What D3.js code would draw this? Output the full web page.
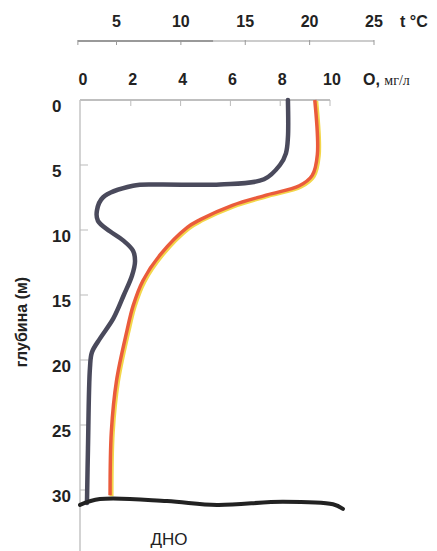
<!DOCTYPE html>
<html>
<head>
<meta charset="utf-8">
<script src="https://cdn.jsdelivr.net/npm/d3@7"></script>
<style>
  body { margin: 0; background: #fff; }
  svg { display: block; }
</style>
</head>
<body>
<div id="chart"></div>
<script>
// depth (m) vs dissolved oxygen (mg/l)
var oxyDepth = [0, 2.9, 4.1, 5.0, 6.1, 6.5, 6.5, 6.6, 7.5, 8.5, 9.3, 10.1, 10.8, 11.6, 12.4, 13.5, 15, 16.8, 18.3, 19.4, 20.6, 26.8, 31];
var oxyValues = [8.31, 8.31, 8.23, 7.99, 7.35, 5.58, 3.05, 2.09, 0.88, 0.64, 0.68, 1.16, 1.69, 2.09, 2.17, 2.05, 1.72, 1.3, 0.78, 0.44, 0.36, 0.28, 0.24];

// depth (m) vs temperature (°C)
var tempDepth = [0, 4.2, 5.8, 6.6, 7.3, 8.1, 9.2, 9.8, 11.9, 13.9, 15.8, 17.8, 21.6, 25.5, 30.4];
var tempValues = [20.4, 20.6, 20.2, 19.2, 16.7, 14.0, 11.5, 10.5, 8.4, 7.05, 6.3, 5.8, 5.0, 4.6, 4.5];

// bottom line (дно), x in O2 units
var bottomX = [-0.04, 0.76, 3.45, 5.46, 8.11, 10.12, 10.52];
var bottomDepth = [31.15, 30.7, 30.85, 31.15, 30.9, 31.1, 31.45];

var tempTicks = [5, 10, 15, 20, 25];
var oxyTicks = [0, 2, 4, 6, 8, 10];
var depthTicks = [0, 5, 10, 15, 20, 25, 30];

var width = 437, height = 551;

var svg = d3.select('#chart').append('svg')
    .attr('width', width)
    .attr('height', height);

var x = d3.scaleLinear().domain([0, 10]).range([81, 330]);
var xt = d3.scaleLinear().domain([5, 25]).range([116.5, 374]);
var y = d3.scaleLinear().domain([0, 30]).range([100, 490]);

var numFont = "'Liberation Sans', Arial, sans-serif";

// temperature axis
svg.append('line')
    .attr('x1', xt(2)).attr('x2', xt(25))
    .attr('y1', 41).attr('y2', 41)
    .attr('stroke', '#999').attr('stroke-width', 1.2);
svg.append('line')
    .attr('x1', xt(2)).attr('x2', xt(12.5))
    .attr('y1', 41).attr('y2', 41)
    .attr('stroke', '#666').attr('stroke-width', 1.2);
svg.selectAll('.tt')
    .data([2].concat(tempTicks))
    .join('line')
    .attr('class', 'tt')
    .attr('x1', d => xt(d)).attr('x2', d => xt(d))
    .attr('y1', 40).attr('y2', 45)
    .attr('stroke', '#999');
svg.selectAll('.tl')
    .data(tempTicks)
    .join('text')
    .attr('class', 'tl')
    .attr('x', d => xt(d))
    .attr('y', 27)
    .attr('text-anchor', 'middle')
    .style('font-family', numFont)
    .style('font-size', '16px')
    .style('font-weight', 'bold')
    .attr('fill', '#222')
    .text(d => d);
svg.append('text')
    .attr('x', 400).attr('y', 27)
    .style('font-family', numFont)
    .style('font-size', '16px')
    .style('font-weight', 'bold')
    .attr('fill', '#222')
    .text('t °C');

// oxygen axis labels
svg.selectAll('.ol')
    .data(oxyTicks)
    .join('text')
    .attr('class', 'ol')
    .attr('x', d => x(d) + 2)
    .attr('y', 85)
    .attr('text-anchor', 'middle')
    .style('font-family', numFont)
    .style('font-size', '16px')
    .style('font-weight', 'bold')
    .attr('fill', '#222')
    .text(d => d);
var ot = svg.append('text')
    .attr('x', 363).attr('y', 85)
    .attr('fill', '#222');
ot.append('tspan')
    .style('font-family', numFont)
    .style('font-size', '16px')
    .style('font-weight', 'bold')
    .text('O, ');
ot.append('tspan')
    .style('font-family', "'Liberation Serif', serif")
    .style('font-size', '14px')
    .text('мг/л');

// frame: top line with ticks, left axis
svg.append('line')
    .attr('x1', x(0) - 1).attr('x2', x(10))
    .attr('y1', y(0)).attr('y2', y(0))
    .attr('stroke', '#aaa').attr('stroke-width', 1.5);
svg.selectAll('.ot')
    .data(oxyTicks.slice(1))
    .join('line')
    .attr('class', 'ot')
    .attr('x1', d => x(d)).attr('x2', d => x(d))
    .attr('y1', y(0)).attr('y2', y(0) + 6)
    .attr('stroke', '#bbb');
svg.append('line')
    .attr('x1', x(0) - 1).attr('x2', x(0) - 1)
    .attr('y1', y(0)).attr('y2', height)
    .attr('stroke', '#c4c4c4').attr('stroke-width', 1.5);
svg.selectAll('.dt')
    .data(depthTicks.slice(1))
    .join('line')
    .attr('class', 'dt')
    .attr('x1', x(0) - 1).attr('x2', x(0) + 7)
    .attr('y1', d => y(d)).attr('y2', d => y(d))
    .attr('stroke', '#bbb');
svg.selectAll('.dl')
    .data(depthTicks)
    .join('text')
    .attr('class', 'dl')
    .attr('x', 52)
    .attr('y', d => y(d) + 12)
    .style('font-family', numFont)
    .style('font-size', '17px')
    .style('font-weight', 'bold')
    .attr('fill', '#222')
    .text(d => d);

svg.append('text')
    .attr('transform', 'translate(27,322) rotate(-90)')
    .attr('text-anchor', 'middle')
    .style('font-family', numFont)
    .style('font-size', '16px')
    .style('font-weight', 'bold')
    .attr('fill', '#222')
    .text('глубина (м)');

// curves
var oxyLine = d3.line()
    .x(d => x(d[0]))
    .y(d => y(d[1]))
    .curve(d3.curveCatmullRom.alpha(0.5));
var tempLine = d3.line()
    .x(d => xt(d[0]))
    .y(d => y(d[1]))
    .curve(d3.curveCatmullRom.alpha(0.5));

var tempData = tempValues.map((v, i) => [v, tempDepth[i]]);
var oxyData = oxyValues.map((v, i) => [v, oxyDepth[i]]);
var bottomData = bottomX.map((v, i) => [v, bottomDepth[i]]);

svg.append('path')
    .attr('d', tempLine(tempData))
    .attr('transform', 'translate(1.5,1)')
    .attr('fill', 'none')
    .attr('stroke', '#f3d64a')
    .attr('stroke-width', 4);
svg.append('path')
    .attr('d', tempLine(tempData))
    .attr('fill', 'none')
    .attr('stroke', '#ea5b3c')
    .attr('stroke-width', 3.5);

svg.append('path')
    .attr('d', oxyLine(oxyData))
    .attr('fill', 'none')
    .attr('stroke', '#4a4a5c')
    .attr('stroke-width', 4.5)
    .attr('stroke-linecap', 'round');

svg.append('path')
    .attr('d', oxyLine(bottomData))
    .attr('fill', 'none')
    .attr('stroke', '#222')
    .attr('stroke-width', 4)
    .attr('stroke-linecap', 'round');

svg.append('text')
    .attr('x', 169).attr('y', 545)
    .attr('text-anchor', 'middle')
    .style('font-family', numFont)
    .style('font-size', '17px')
    .attr('fill', '#222')
    .text('ДНО');
</script>
</body>
</html>
